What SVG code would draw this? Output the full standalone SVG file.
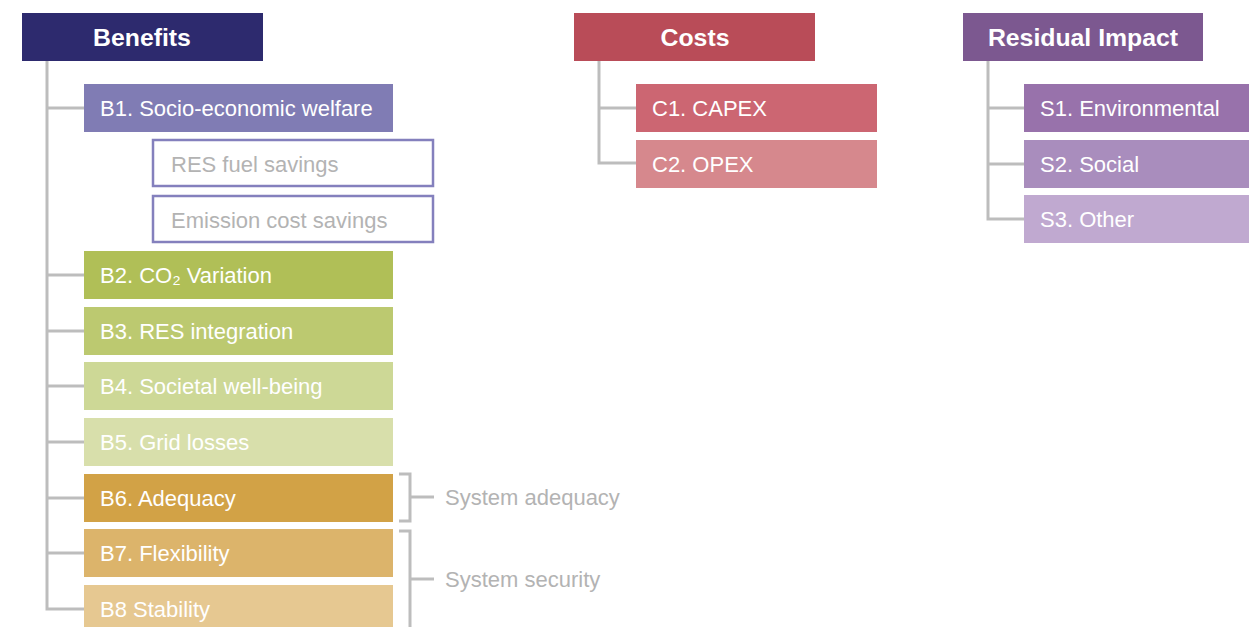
<svg xmlns="http://www.w3.org/2000/svg" width="1249" height="627" viewBox="0 0 1249 627">
<style>
.hd{font-family:"Liberation Sans",Arial,sans-serif;font-weight:bold;font-size:24.8px;fill:#fff;text-anchor:middle}
.lb{font-family:"Liberation Sans",Arial,sans-serif;font-size:22px;fill:#fff}
.gl{font-family:"Liberation Sans",Arial,sans-serif;font-size:22px;fill:#b3b3b3}
.cn{fill:none;stroke:#bdbdbd;stroke-width:3}
.ob{fill:#fff;stroke:#8480bd;stroke-width:2.5}
</style>
<rect width="1249" height="627" fill="#fff"/>
<g id="connectors">
<path class="cn" d="M47 61V609H84M47 108H84M47 275H84M47 331H84M47 386H84M47 442H84M47 498H84M47 553H84"/>
<path class="cn" d="M599 61V163H636M599 108H636"/>
<path class="cn" d="M988 61V219H1024M988 108H1024M988 164H1024"/>
<path class="cn" d="M399 474H410V521H399M410 497H434"/>
<path class="cn" d="M399 531H410V627M410 579H434"/>
</g>
<g id="benefits"><rect x="22" y="13" width="241" height="48" fill="#2d2a6e"/><text class="hd" x="142" y="46">Benefits</text></g>
<g id="costs"><rect x="574" y="13" width="241" height="48" fill="#b94c58"/><text class="hd" x="695" y="46">Costs</text></g>
<g id="residual"><rect x="963" y="13" width="240" height="48" fill="#7c5890"/><text class="hd" x="1083" y="46">Residual Impact</text></g>
<g id="b1"><rect x="84" y="84" width="309" height="48" fill="#807cb4"/><text class="lb" x="100" y="116">B1. Socio-economic welfare</text></g>
<g id="res"><rect class="ob" x="153" y="140" width="280" height="46"/><text class="gl" x="171" y="172">RES fuel savings</text></g>
<g id="emission"><rect class="ob" x="153" y="196" width="280" height="46"/><text class="gl" x="171" y="228">Emission cost savings</text></g>
<g id="b2"><rect x="84" y="251" width="309" height="48" fill="#b0bf57"/><text class="lb" x="100" y="283">B2. CO₂ Variation</text></g>
<g id="b3"><rect x="84" y="307" width="309" height="48" fill="#bcc970"/><text class="lb" x="100" y="339">B3. RES integration</text></g>
<g id="b4"><rect x="84" y="362" width="309" height="48" fill="#cdd896"/><text class="lb" x="100" y="394">B4. Societal well-being</text></g>
<g id="b5"><rect x="84" y="418" width="309" height="48" fill="#d8dfab"/><text class="lb" x="100" y="450">B5. Grid losses</text></g>
<g id="b6"><rect x="84" y="474" width="309" height="48" fill="#d2a246"/><text class="lb" x="100" y="506">B6. Adequacy</text></g>
<g id="b7"><rect x="84" y="529" width="309" height="48" fill="#dcb46b"/><text class="lb" x="100" y="561">B7. Flexibility</text></g>
<g id="b8"><rect x="84" y="585" width="309" height="48" fill="#e6c891"/><text class="lb" x="100" y="617">B8 Stability</text></g>
<g id="sysadeq"><text class="gl" x="445" y="505">System adequacy</text></g>
<g id="syssec"><text class="gl" x="445" y="587">System security</text></g>
<g id="c1"><rect x="636" y="84" width="241" height="48" fill="#cc6672"/><text class="lb" x="652" y="116">C1. CAPEX</text></g>
<g id="c2"><rect x="636" y="140" width="241" height="48" fill="#d6888d"/><text class="lb" x="652" y="172">C2. OPEX</text></g>
<g id="s1"><rect x="1024" y="84" width="225" height="48" fill="#9872ab"/><text class="lb" x="1040" y="116">S1. Environmental</text></g>
<g id="s2"><rect x="1024" y="140" width="225" height="48" fill="#a98dbd"/><text class="lb" x="1040" y="172">S2. Social</text></g>
<g id="s3"><rect x="1024" y="195" width="225" height="48" fill="#c0a9d0"/><text class="lb" x="1040" y="227">S3. Other</text></g>
</svg>
